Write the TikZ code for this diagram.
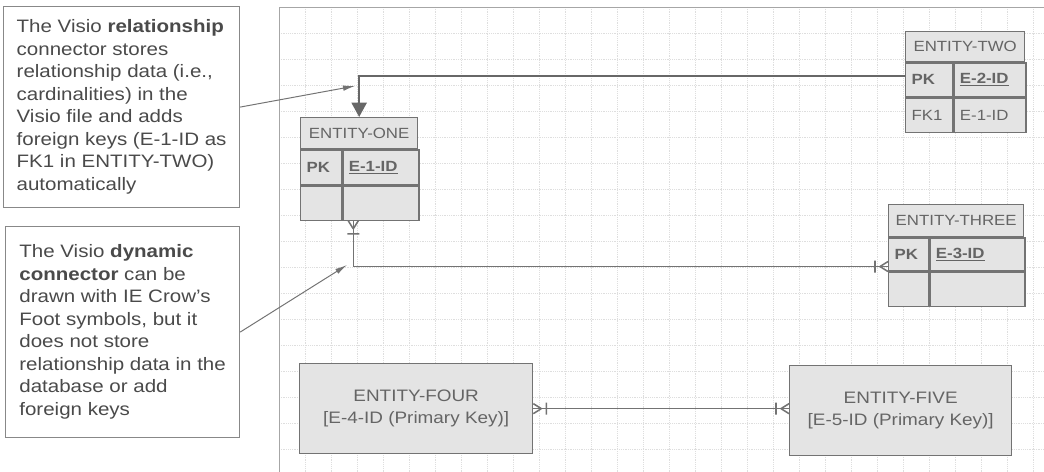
\documentclass[tikz,border=0pt]{standalone}
\usepackage{fontspec}
\setmainfont[FakeStretch=1.14]{Liberation Sans}
\usetikzlibrary{positioning, arrows.meta}

\definecolor{linegray}{HTML}{737373}
\definecolor{boxgray}{HTML}{E4E4E4}
\definecolor{textgray}{HTML}{4A4A4A}
\definecolor{gridgray}{HTML}{DEDEDE}

\tikzset{
  note/.style={draw=linegray!85, fill=white, line width=0.8pt, align=left, inner sep=0pt,
    text=textgray, font=\fontsize{12.8}{16}\selectfont},
  ehead/.style={draw=linegray, fill=boxgray, line width=0.9pt, inner sep=0pt, align=center,
    text=textgray!85, font=\fontsize{10.5}{12}\selectfont},
  ecell/.style={ehead, inner xsep=0.15cm, inner ysep=0pt, align=left},
  bigent/.style={ehead, align=center, font=\fontsize{11.8}{16}\selectfont},
  relline/.style={draw=linegray!90!black, line width=1.4pt},
  dynline/.style={draw=linegray, line width=1.1pt},
  leader/.style={draw=linegray, line width=0.7pt, -{Latex[length=0.3cm,width=0.14cm]}},
  gridline/.style={draw=gridgray, line width=0.3pt, densely dotted},
  crow/.pic={
    \draw[dynline] (-8,0) -- (0,-5) (-8,0) -- (0,5) (-13,-6) -- (-13,6);
  }
}

\begin{document}
\begin{tikzpicture}[x=0.025cm, y=-0.025cm]
  \useasboundingbox (0,0) rectangle (1044,472);

  % drawing page with grid
  \foreach \gx in {305,331,...,1044} \draw[gridline] (\gx,7) -- (\gx,472);
  \foreach \gy in {33,59,...,472} \draw[gridline] (279,\gy) -- (1044,\gy);
  \draw[draw=gridgray!75!black, line width=0.5pt] (1044,7) -- (279,7) -- (279,472);

  % callout notes
  \node[note, anchor=north west, minimum width=5.9cm, minimum height=5.025cm] (note1) at (3,6)
    {The Visio \textbf{relationship}\\connector stores\\relationship data (i.e.,\\cardinalities) in the\\Visio file and adds\\foreign keys (E-1-ID as\\FK1 in ENTITY-TWO)\\automatically};
  \node[note, anchor=north west, minimum width=5.85cm, minimum height=5.275cm] (note2) at (5,226)
    {The Visio \textbf{dynamic}\\\textbf{connector} can be\\drawn with IE Crow’s\\Foot symbols, but it\\does not store\\relationship data in the\\database or add\\foreign keys};

  % ENTITY-ONE
  \node[ehead, anchor=north west, minimum width=2.925cm, minimum height=0.775cm] (e1head) at (300,117) {ENTITY-ONE};
  \node[ecell, text width=0.725cm, minimum height=0.875cm, below=0pt of e1head.south west, anchor=north west] (e1pk) {\textbf{PK}};
  \node[ecell, text width=1.6cm, minimum height=0.875cm, right=0pt of e1pk.north east, anchor=north west] (e1key) {\textbf{\underline{E-1-ID}}};
  \node[ecell, text width=0.725cm, minimum height=0.85cm, below=0pt of e1pk.south west, anchor=north west] (e1a) {};
  \node[ecell, text width=1.6cm, minimum height=0.85cm, right=0pt of e1a.north east, anchor=north west] (e1b) {};

  % ENTITY-TWO
  \node[ehead, anchor=north west, minimum width=2.975cm, minimum height=0.75cm] (e2head) at (905,31) {ENTITY-TWO};
  \node[ecell, text width=0.875cm, minimum height=0.85cm, below=0pt of e2head.south west, anchor=north west] (e2pk) {\textbf{PK}};
  \node[ecell, text width=1.5cm, minimum height=0.85cm, right=0pt of e2pk.north east, anchor=north west] (e2key) {\textbf{\underline{E-2-ID}}};
  \node[ecell, text width=0.875cm, minimum height=0.85cm, below=0pt of e2pk.south west, anchor=north west] (e2fk) {FK1};
  \node[ecell, text width=1.5cm, minimum height=0.85cm, right=0pt of e2fk.north east, anchor=north west] (e2fkey) {E-1-ID};

  % ENTITY-THREE
  \node[ehead, anchor=north west, minimum width=3.375cm, minimum height=0.8cm] (e3head) at (888,204) {ENTITY-THREE};
  \node[ecell, text width=0.7cm, minimum height=0.825cm, below=0pt of e3head.south west, anchor=north west] (e3pk) {\textbf{PK}};
  \node[ecell, text width=2.075cm, minimum height=0.825cm, right=0pt of e3pk.north east, anchor=north west] (e3key) {\textbf{\underline{E-3-ID}}};
  \node[ecell, text width=0.7cm, minimum height=0.85cm, below=0pt of e3pk.south west, anchor=north west] (e3a) {};
  \node[ecell, text width=2.075cm, minimum height=0.85cm, right=0pt of e3a.north east, anchor=north west] (e3b) {};

  % ENTITY-FOUR and ENTITY-FIVE
  \node[bigent, anchor=north west, minimum width=5.825cm, minimum height=2.25cm] (e4) at (299,363)
    {ENTITY-FOUR\\{}[E-4-ID (Primary Key)]};
  \node[bigent, anchor=north west, minimum width=5.55cm, minimum height=2.25cm] (e5) at (789,365)
    {ENTITY-FIVE\\{}[E-5-ID (Primary Key)]};

  % relationship connector
  \draw[relline, -{Triangle[length=0.36cm,width=0.38cm]}] ([yshift=0.1cm]e2pk.west) -| (e1head.north);

  % dynamic connectors with crow's feet
  \coordinate (e1foot) at ([xshift=0.275cm]e1b.south west);
  \coordinate (e3foot) at ([yshift=0.125cm]e3pk.south west);
  \draw[dynline] (e1foot) |- (e3foot);
  \pic[rotate=90] at (e1foot) {crow};
  \pic at (e3foot) {crow};

  \coordinate (e5foot) at (e4.east -| e5.west);
  \draw[dynline] (e4.east) -- (e5foot);
  \pic[rotate=180] at (e4.east) {crow};
  \pic at (e5foot) {crow};

  % callout leaders
  \coordinate (tip1) at (355,86);
  \coordinate (tip2) at (347,265);
  \draw[leader] (note1.east) -- (tip1);
  \draw[leader] (note2.east) -- (tip2);
\end{tikzpicture}
\end{document}
